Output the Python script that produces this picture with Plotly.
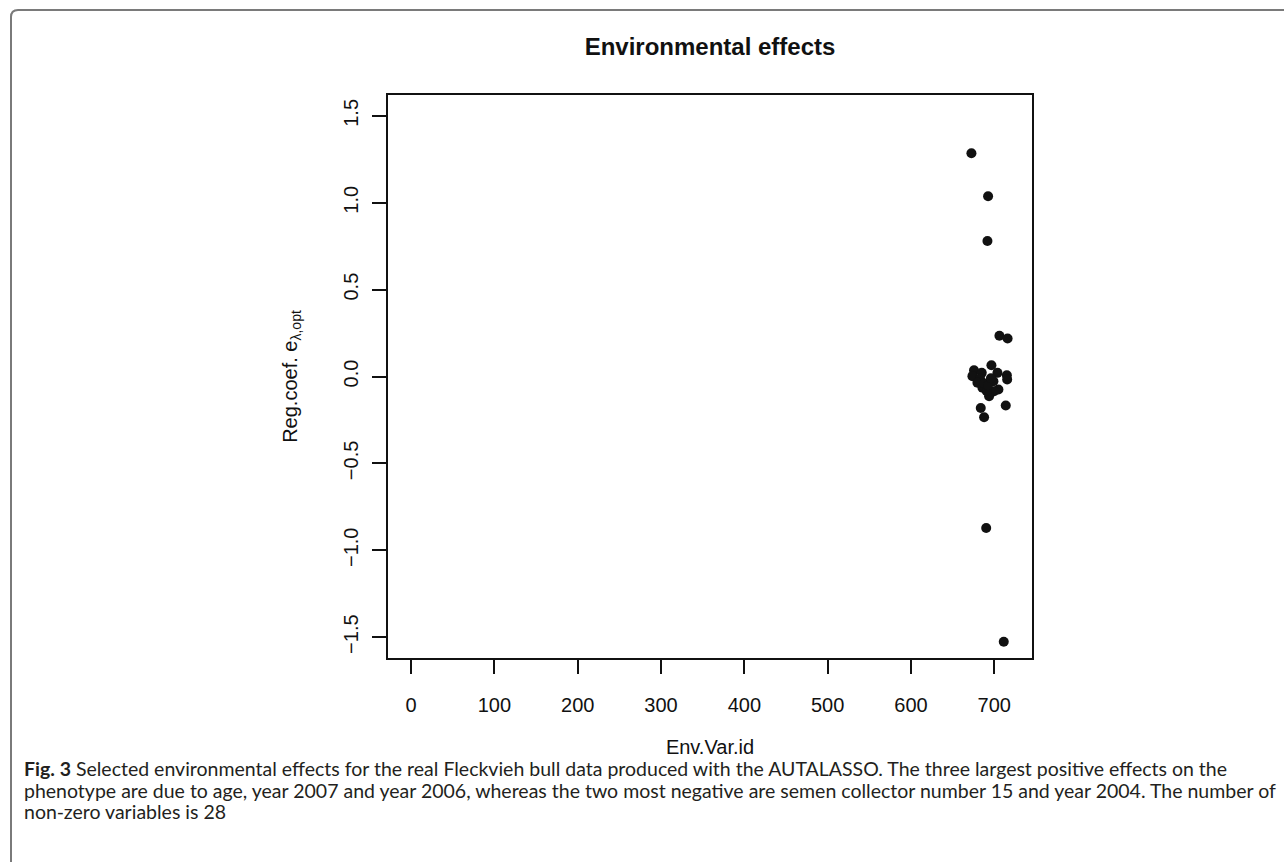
import plotly.graph_objects as go

# ---- data ----
env_var_id = [672.6, 692.6, 691.8, 706.2, 716.0,
              696.6, 675.7, 673.8, 685.0, 703.8, 715.1, 715.5, 683.0, 679.8,
              699.0, 685.8, 705.0, 699.8, 693.8, 691.0, 713.8, 683.8, 687.8,
              688.0, 692.5, 696.0,
              690.3, 711.4]
reg_coef = [1.285, 1.037, 0.780, 0.235, 0.219,
            0.065, 0.036, 0.002, 0.021, 0.021, 0.007, -0.017, -0.013, -0.036,
            -0.027, -0.065, -0.075, -0.085, -0.113, -0.085, -0.167, -0.181, -0.235,
            -0.040, -0.050, -0.010,
            -0.872, -1.526]

x_ticks = [0, 100, 200, 300, 400, 500, 600, 700]
y_ticks = [-1.5, -1.0, -0.5, 0.0, 0.5, 1.0, 1.5]

title_text = "Environmental effects"
x_title = "Env.Var.id"
y_title = "Reg.coef. e<sub>λ,opt</sub>"
caption_lines = [
    "<b>Fig. 3</b> Selected environmental effects for the real Fleckvieh bull data produced with the AUTALASSO. The three largest positive effects on the",
    "phenotype are due to age, year 2007 and year 2006, whereas the two most negative are semen collector number 15 and year 2004. The number of",
    "non-zero variables is 28",
]

W, H = 1284, 862
L, R, T, B = 388, 1032, 95, 658

fig = go.Figure()
fig.add_trace(go.Scatter(
    x=env_var_id, y=reg_coef, mode="markers",
    marker=dict(size=10, color="#111111", line=dict(width=0)),
    showlegend=False, hoverinfo="x+y",
))

axis_common = dict(
    showgrid=False, zeroline=False, showline=True, mirror=True,
    linecolor="#111111", linewidth=2, ticks="outside", ticklen=14,
    tickwidth=1.5, tickcolor="#111111",
    tickfont=dict(family="Liberation Sans, Arial, sans-serif", size=20, color="#111111"),
)

fig.update_xaxes(
    **axis_common, range=[-27.7, 745.3], tickvals=x_ticks,
    ticklabelstandoff=14,
    title=dict(text=x_title, standoff=25,
               font=dict(family="Liberation Sans, Arial, sans-serif", size=20, color="#111111")),
)
fig.update_yaxes(
    **axis_common, range=[-1.62, 1.62], tickvals=y_ticks, tickformat=".1f",
    tickangle=-90, ticklabelstandoff=6,
    title=dict(text=y_title, standoff=37,
               font=dict(family="Liberation Sans, Arial, sans-serif", size=20, color="#111111")),
)

def px_x(p):
    return (p - L) / (R - L)

def px_y(p):
    return (B - p) / (B - T)

# outer rounded frame (top-left corner visible)
r = 7
left, top = 11, 10
path = (f"M {px_x(left)},{px_y(H + 20)} L {px_x(left)},{px_y(top + r)} "
        f"Q {px_x(left)},{px_y(top)} {px_x(left + r)},{px_y(top)} "
        f"L {px_x(W + 20)},{px_y(top)}")
fig.add_shape(type="path", path=path, xref="paper", yref="paper",
              line=dict(color="#7a7a7a", width=2), layer="above")

# caption
for i, line in enumerate(caption_lines):
    fig.add_annotation(
        text=line, xref="paper", yref="paper", x=px_x(22), y=px_y(768 + 22 * i),
        xanchor="left", yanchor="middle", showarrow=False, align="left",
        font=dict(family="Lato, Open Sans, sans-serif", size=19.5, color="#231f20"),
    )

fig.update_layout(
    width=W, height=H,
    margin=dict(l=L, r=W - R, t=T, b=H - B, autoexpand=False),
    paper_bgcolor="white", plot_bgcolor="white",
    title=dict(text=f"<b>{title_text}</b>", x=0.5, xref="paper", xanchor="center",
               y=1 - 47 / H, yref="container", yanchor="middle",
               font=dict(family="Liberation Sans, Arial, sans-serif", size=24, color="#111111")),
)

fig.write_html("out.html", config={"displayModeBar": False})
